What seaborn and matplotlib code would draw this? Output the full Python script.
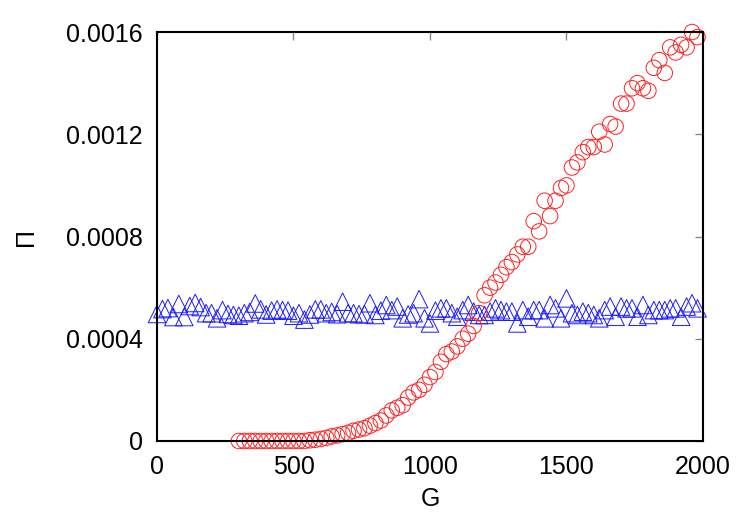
"""Pi versus G: flat blue triangles and a rising red curve, gnuplot look."""
import matplotlib
matplotlib.use("Agg")
import matplotlib.pyplot as plt
import numpy as np
import pandas as pd
import seaborn as sns

# blue triangles, G = 0 .. 1980 step 20, Pi in units of 1e-4
g_blue = list(range(0, 2000, 20))
pi_blue = [
    4.97, 5.16, 5.20, 4.85, 5.36, 4.85, 5.28, 5.40, 5.24, 5.00,
    5.00, 4.80, 5.12, 4.97, 4.93, 4.90, 5.00, 5.05, 5.38, 5.15,
    4.95, 5.10, 5.15, 5.12, 5.10, 4.90, 5.00, 4.75, 4.95, 5.15,
    5.15, 5.00, 5.05, 4.96, 5.45, 5.00, 5.00, 4.96, 4.96, 5.39,
    4.93, 5.10, 5.32, 5.12, 5.26, 4.80, 4.95, 5.00, 5.55, 4.80,
    4.60, 5.10, 5.19, 5.19, 5.00, 4.86, 5.12, 5.32, 5.06, 4.93,
    4.93, 5.06, 5.19, 5.12, 5.06, 5.06, 4.60, 5.12, 4.86, 5.12,
    5.12, 4.80, 5.32, 5.19, 4.80, 5.58, 5.00, 4.93, 5.06, 5.00,
    4.93, 4.80, 5.12, 5.26, 4.86, 5.26, 5.19, 5.19, 4.86, 5.32,
    4.93, 5.12, 5.12, 5.12, 5.19, 5.19, 4.86, 5.26, 5.39, 5.19,
]

# red circles, G = 300 .. 1980 step 20, Pi in units of 1e-4
g_red = list(range(300, 2000, 20))
pi_red = [
    0.0, 0.0, 0.0, 0.0, 0.0, 0.0, 0.0, 0.0, 0.0, 0.0,
    0.0, 0.0, 0.0, 0.03, 0.05, 0.08, 0.12, 0.18, 0.22, 0.27,
    0.32, 0.40, 0.45, 0.50, 0.60, 0.70, 0.80, 1.00, 1.20, 1.30,
    1.40, 1.70, 1.90, 2.00, 2.20, 2.50, 2.70, 3.10, 3.40, 3.50,
    3.70, 4.00, 4.20, 4.50, 5.00, 5.70, 6.00, 6.20, 6.50, 6.80,
    7.00, 7.30, 7.60, 7.60, 8.60, 8.20, 9.40, 8.80, 9.40, 9.90,
    10.0, 10.7, 10.9, 11.3, 11.5, 11.5, 12.1, 11.6, 12.4, 12.3,
    13.2, 13.2, 13.8, 14.0, 13.8, 13.7, 14.6, 14.9, 14.4, 15.4,
    15.2, 15.5, 15.4, 16.0, 15.8,
]

df_blue = pd.DataFrame({"G": g_blue, "Pi": np.array(pi_blue) * 1e-4})
df_red = pd.DataFrame({"G": g_red, "Pi": np.array(pi_red) * 1e-4})

sns.set_style("white")
plt.rcParams["font.family"] = ["Liberation Sans", "DejaVu Sans"]
plt.rcParams["font.size"] = 18
plt.rcParams["text.color"] = "black"
plt.rcParams["axes.labelcolor"] = "black"
plt.rcParams["xtick.labelcolor"] = "black"
plt.rcParams["ytick.labelcolor"] = "black"

fig = plt.figure(figsize=(7.5, 5.25), dpi=100)
ax = fig.add_axes([0.2093, 0.16, 0.728, 0.779])

sns.scatterplot(data=df_blue, x="G", y="Pi", ax=ax, marker="^", s=160,
    fc="none", ec="#1a1aff", linewidth=0.7, clip_on=False, zorder=3)
sns.scatterplot(data=df_red, x="G", y="Pi", ax=ax, marker="o", s=125,
    fc="none", ec="#ff2020", linewidth=0.7, clip_on=False, zorder=3)

ax.set_xlim(0, 2000)
ax.set_ylim(0, 0.0016)
ax.set_xticks([0, 500, 1000, 1500, 2000])
ax.set_yticks([0, 0.0004, 0.0008, 0.0012, 0.0016])
ax.set_yticklabels(["0", "0.0004", "0.0008", "0.0012", "0.0016"])
ax.tick_params(direction="in", length=6, width=1, color="#888888",
    labelcolor="black", top=True, right=True, labelsize=18, pad=10)
for sp in ax.spines.values():
    sp.set_color("black")
    sp.set_linewidth(1.5)
    sp.set_zorder(4)

ax.set_xlabel("G", fontsize=18, labelpad=6, color="black")
ax.set_ylabel("Π", fontsize=18, labelpad=20, color="black")

fig.savefig("out.png", dpi=100)
